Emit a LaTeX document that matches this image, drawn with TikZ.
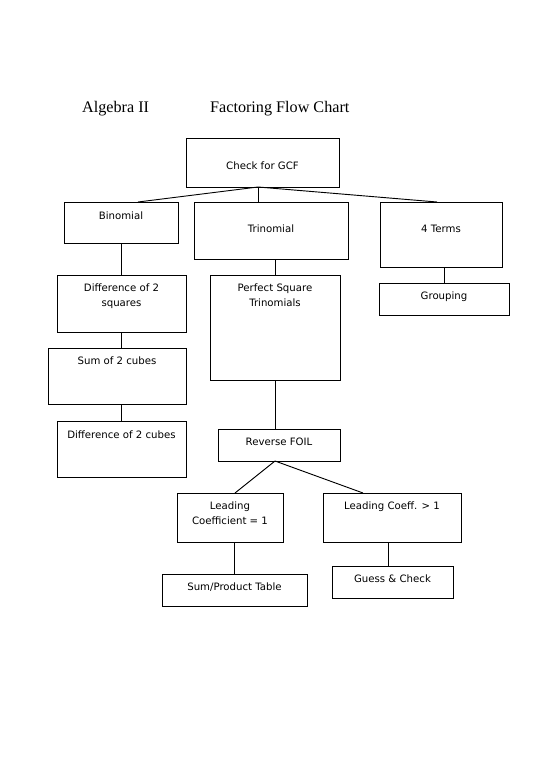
\documentclass[tikz,border=0pt]{standalone}
\usepackage{fontspec}
\setmainfont{Liberation Serif}
\newfontfamily\cmcfont{DejaVu Sans}
\usetikzlibrary{calc}
\newlength\px
\setlength\px{1.0824pt}
\newcommand\bx[7]{%
  \node[flowbox] (#1) at (#2,#3) {\parbox[c][#5\px][t]{#4\px}{\centering\baselineskip=15\px\rule{0pt}{#6\px}#7}};}
\tikzset{
  flowbox/.style={draw, line width=1pt, inner sep=0pt, outer sep=0pt, anchor=north west,
    font=\cmcfont\fontsize{11pt}{13pt}\selectfont},
  conn/.style={line width=1pt},
  titletext/.style={anchor=base west, inner sep=0pt, font=\fontsize{17.5pt}{20pt}\selectfont}
}
\begin{document}
\begin{tikzpicture}[x=1.0824pt, y=-1.0824pt]
\useasboundingbox[fill=white] (0,0) rectangle (550,777);
\node[titletext] (t1) at (82,112.7) {Algebra II};
\node[titletext] (t2) at (210,112.7) {Factoring Flow Chart};

\bx{gcf}{186}{138}{153}{49}{31}{Check for GCF}
\bx{bin}{64}{202}{114}{41}{17}{Binomial}
\bx{tri}{194}{202}{154}{57}{30}{Trinomial}
\bx{four}{380}{202}{122}{65}{30}{4 Terms}
\bx{dsq}{57}{275}{129}{57}{16}{Difference of 2\\squares}
\bx{pst}{210}{275}{130}{105}{16}{Perfect Square\\Trinomials}
\bx{grp}{379}{283}{130}{32}{16}{Grouping}
\bx{scb}{48}{348}{138}{56}{16}{Sum of 2 cubes}
\bx{dcb}{57}{421}{129}{56}{17}{Difference of 2 cubes}
\bx{rf}{218}{429}{122}{32}{16}{Reverse FOIL}
\bx{lca}{177}{493}{106}{49}{16}{Leading\\Coefficient = 1}
\bx{lcb}{323}{493}{138}{49}{16}{Leading Coeff. > 1}
\bx{spt}{162}{574}{145}{32}{16}{Sum/Product Table}
\bx{gch}{332}{566}{121}{32}{16}{Guess \& Check}

\coordinate (gcfb) at ($(gcf.south west)+(72,0)$);
\coordinate (bint) at ($(bin.north west)+(74,0)$);
\coordinate (trit) at ($(tri.north west)+(64,0)$);
\coordinate (fourt) at ($(four.north west)+(57,0)$);
\coordinate (rfb) at (pst.south |- rf.south);
\coordinate (lcat) at ($(lca.north west)+(58,0)$);
\coordinate (lcbt) at ($(lcb.north west)+(40,0)$);
\coordinate (gcht) at ($(gch.north west)+(56,0)$);

\draw[conn] (gcfb) -- (bint);
\draw[conn] (gcfb) -- (trit);
\draw[conn] (gcfb) -- (fourt);
\draw[conn] (dsq.north) -- (dsq.north |- bin.south);
\draw[conn] (dsq.south) -- (dsq.south |- scb.north);
\draw[conn] (dcb.north) -- (dcb.north |- scb.south);
\draw[conn] (pst.north) -- (pst.north |- tri.south);
\draw[conn] (grp.north) -- (grp.north |- four.south);
\draw[conn] (pst.south) -- (pst.south |- rf.north);
\draw[conn] (rfb) -- (lcat);
\draw[conn] (rfb) -- (lcbt);
\draw[conn] (spt.north) -- (spt.north |- lca.south);
\draw[conn] (gcht) -- (gcht |- lcb.south);
\end{tikzpicture}
\end{document}
